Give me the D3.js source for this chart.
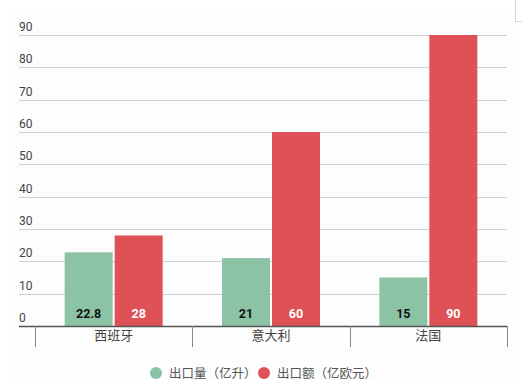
<!DOCTYPE html>
<html>
<head>
<meta charset="utf-8">
<script src="https://cdn.jsdelivr.net/npm/d3@7"></script>
<style>
  body { margin: 0; background: #ffffff; }
  svg text { font-family: Roboto, "Noto Sans CJK SC", sans-serif; }
</style>
</head>
<body>
<div id="chart"></div>
<script>
const countries = ["西班牙", "意大利", "法国"];
const volume = [22.8, 21, 15];      // 出口量（亿升）
const value = [28, 60, 90];         // 出口额（亿欧元）
const seriesNames = ["出口量（亿升）", "出口额（亿欧元）"];
const yTicks = [0, 10, 20, 30, 40, 50, 60, 70, 80, 90];

const colors = ["#8cc3a5", "#dd5157"];
const width = 522, height = 389;

const svg = d3.select("#chart").append("svg")
    .attr("width", width)
    .attr("height", height);

// plot bg
svg.append("rect")
    .attr("x", 14).attr("y", 8)
    .attr("width", 500).attr("height", 372)
    .attr("fill", "#fdfdfd");

// little frame edge top right (in the screenshot)
svg.append("line")
    .attr("x1", 515.5).attr("x2", 515.5)
    .attr("y1", 0).attr("y2", 22)
    .attr("stroke", "#d6d6d6");
svg.append("line")
    .attr("x1", 515).attr("x2", 522)
    .attr("y1", 21.5).attr("y2", 21.5)
    .attr("stroke", "#d6d6d6");

let x = d3.scaleBand().domain(countries).range([35, 507]).padding(0);
let y = d3.scaleLinear().domain([0, 90]).range([326, 35]);

// gridlines + labels
svg.append("g")
    .selectAll("line")
    .data(yTicks.filter(d => d > 0))
    .enter()
    .append("line")
    .attr("x1", 19).attr("x2", 507)
    .attr("y1", d => Math.round(y(d)) + 0.5)
    .attr("y2", d => Math.round(y(d)) + 0.5)
    .attr("stroke", "#d0d0d0")
    .attr("stroke-width", 1);

svg.append("g")
    .selectAll("text")
    .data(yTicks)
    .enter()
    .append("text")
    .attr("x", 19)
    .attr("y", d => y(d) - 4)
    .style("font-size", "12px")
    .style("fill", "#444")
    .text(d => d);

// bars
let barW = 48, gap = 2;
let data = countries.map((c, i) => ({c: c, vals: [volume[i], value[i]]}));

let groups = svg.append("g")
    .selectAll("g")
    .data(data)
    .enter()
    .append("g")
    .attr("transform", d => "translate(" + (x(d.c) + x.bandwidth() / 2) + ",0)");

groups.selectAll("rect")
    .data(d => d.vals)
    .enter()
    .append("rect")
    .attr("x", (d, i) => i == 0 ? -barW - gap / 2 : gap / 2)
    .attr("y", d => y(d))
    .attr("width", barW)
    .attr("height", d => y(0) - y(d))
    .attr("fill", (d, i) => colors[i]);

groups.selectAll("text")
    .data(d => d.vals)
    .enter()
    .append("text")
    .attr("x", (d, i) => i == 0 ? -barW / 2 - gap / 2 : barW / 2 + gap / 2)
    .attr("y", 318)
    .attr("text-anchor", "middle")
    .style("font-size", "12.5px")
    .style("font-weight", "bold")
    .style("fill", (d, i) => i == 0 ? "#111" : "#fff")
    .text(d => d);

// x axis
let xAxis = svg.append("g")
    .attr("transform", "translate(0,326)")
    .call(d3.axisBottom(x).tickSize(0).tickPadding(5));
xAxis.select(".domain").remove();
xAxis.selectAll("text")
    .style("font-size", "13px")
    .style("fill", "#444")
    .style("font-family", "'Noto Sans CJK SC', sans-serif");

svg.append("line")
    .attr("x1", 19).attr("x2", 507)
    .attr("y1", 326.5).attr("y2", 326.5)
    .attr("stroke", "#555")
    .attr("stroke-width", 1.5);

let bounds = countries.map(c => x(c)).concat([x.range()[1]]);
svg.append("g")
    .selectAll("line")
    .data(bounds)
    .enter()
    .append("line")
    .attr("x1", d => Math.round(d) + 0.5)
    .attr("x2", d => Math.round(d) + 0.5)
    .attr("y1", 326).attr("y2", 347)
    .attr("stroke", "#888")
    .attr("stroke-width", 1);

// legend
let legendX = [156, 264];
let legend = svg.append("g")
    .selectAll("g")
    .data(seriesNames)
    .enter()
    .append("g")
    .attr("transform", (d, i) => "translate(" + legendX[i] + ",373)");

legend.append("circle")
    .attr("r", 6)
    .attr("fill", (d, i) => colors[i]);

legend.append("text")
    .attr("x", 13)
    .attr("y", 4.5)
    .style("font-size", "12.5px")
    .style("fill", "#555")
    .style("font-family", "'Noto Sans CJK SC', sans-serif")
    .text(d => d);
</script>
</body>
</html>
